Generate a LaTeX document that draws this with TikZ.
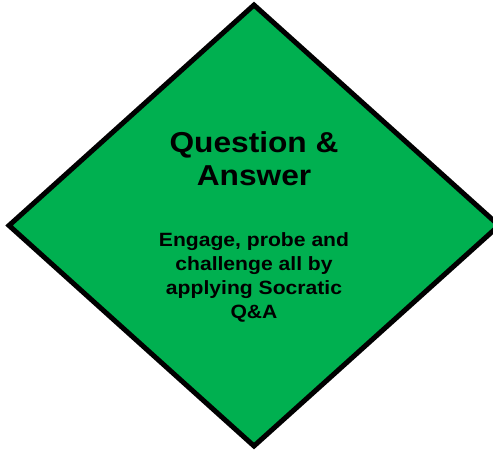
\documentclass[tikz,border=0pt]{standalone}
\usepackage{fontspec}
\setmainfont{Liberation Sans}
\newfontfamily\qafont[FakeStretch=1.1]{Liberation Sans}
\definecolor{qagreen}{HTML}{00B050}
\tikzset{
  qabox/.style={draw=black, line width=5bp, fill=qagreen, line join=miter},
  qatitle/.style={font=\qafont\bfseries\fontsize{28.8bp}{33bp}\selectfont, align=center, inner sep=0pt},
  qabody/.style={font=\qafont\bfseries\fontsize{19.2bp}{24bp}\selectfont, align=center, inner sep=0pt}
}
\begin{document}
\begin{tikzpicture}[x=1bp,y=-1bp]
\useasboundingbox (0,0) rectangle (493,454);
\draw[qabox] (254,5) -- (499,225.5) -- (254,446) -- (9,225.5) -- cycle;

\node[qatitle] (title) at (254,159) {Question \&\\Answer};
\node[qabody] (body) at (254,277) {Engage, probe and\\challenge all by\\applying Socratic\\Q\&A};
\end{tikzpicture}
\end{document}
